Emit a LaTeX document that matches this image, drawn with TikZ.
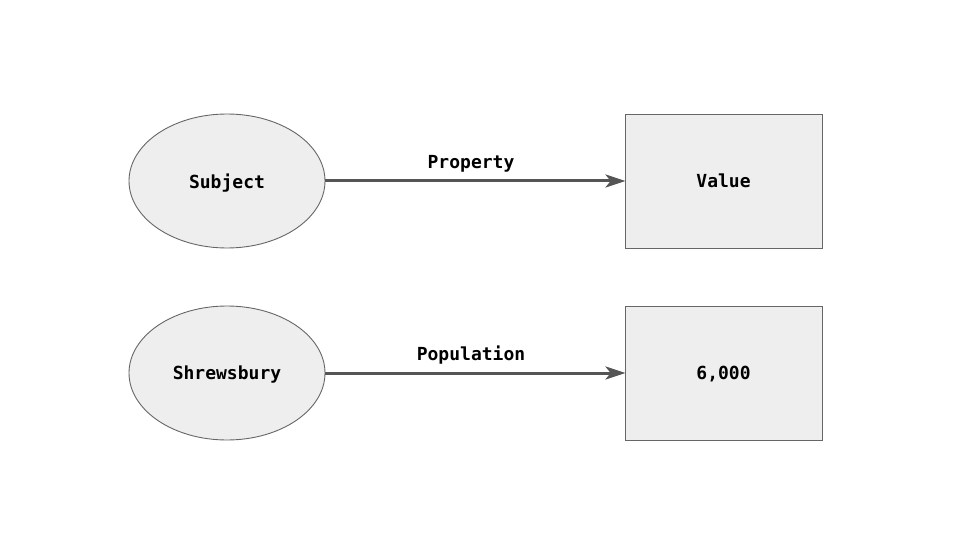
\documentclass[tikz,border=0pt]{standalone}
\usepackage{fontspec}
\setmonofont{DejaVu Sans Mono}
\usetikzlibrary{arrows.meta,shapes.geometric}
\definecolor{nodefill}{HTML}{EEEEEE}
\definecolor{nodeline}{HTML}{666666}
\definecolor{arrowline}{HTML}{555555}
\begin{document}
\begin{tikzpicture}[x=1pt,y=-1pt,
    every node/.style={font=\ttfamily\bfseries\fontsize{18}{20}\selectfont},
    thing/.style={ellipse,draw=nodeline,fill=nodefill,line width=0.9pt,minimum width=196pt,minimum height=134pt,inner sep=0pt,text depth=0pt},
    literal/.style={rectangle,draw=nodeline,fill=nodefill,line width=0.9pt,minimum width=197pt,minimum height=134pt,inner sep=0pt,text depth=0pt},
    relation/.style={draw=arrowline,line width=3pt,shorten >=-1pt,-{Stealth[length=20pt,width=13pt,inset=5pt]}}]
    % Fix the page size
    \useasboundingbox (0,0) rectangle (960,540);

    % Generic triple
    \node[thing] (subj) at (227,181) {Subject};
    \node[literal] (val) at (723.5,181) {Value};
    \draw[relation] (subj) -- node[above=4pt,xshift=-4pt] {Property} (val);

    % Example triple
    \node[thing] (town) at (227,373) {Shrewsbury};
    \node[literal] (pop) at (723.5,373) {6,000};
    \draw[relation] (town) -- node[above=4pt,xshift=-4pt] {Population} (pop);

\end{tikzpicture}
\end{document}
